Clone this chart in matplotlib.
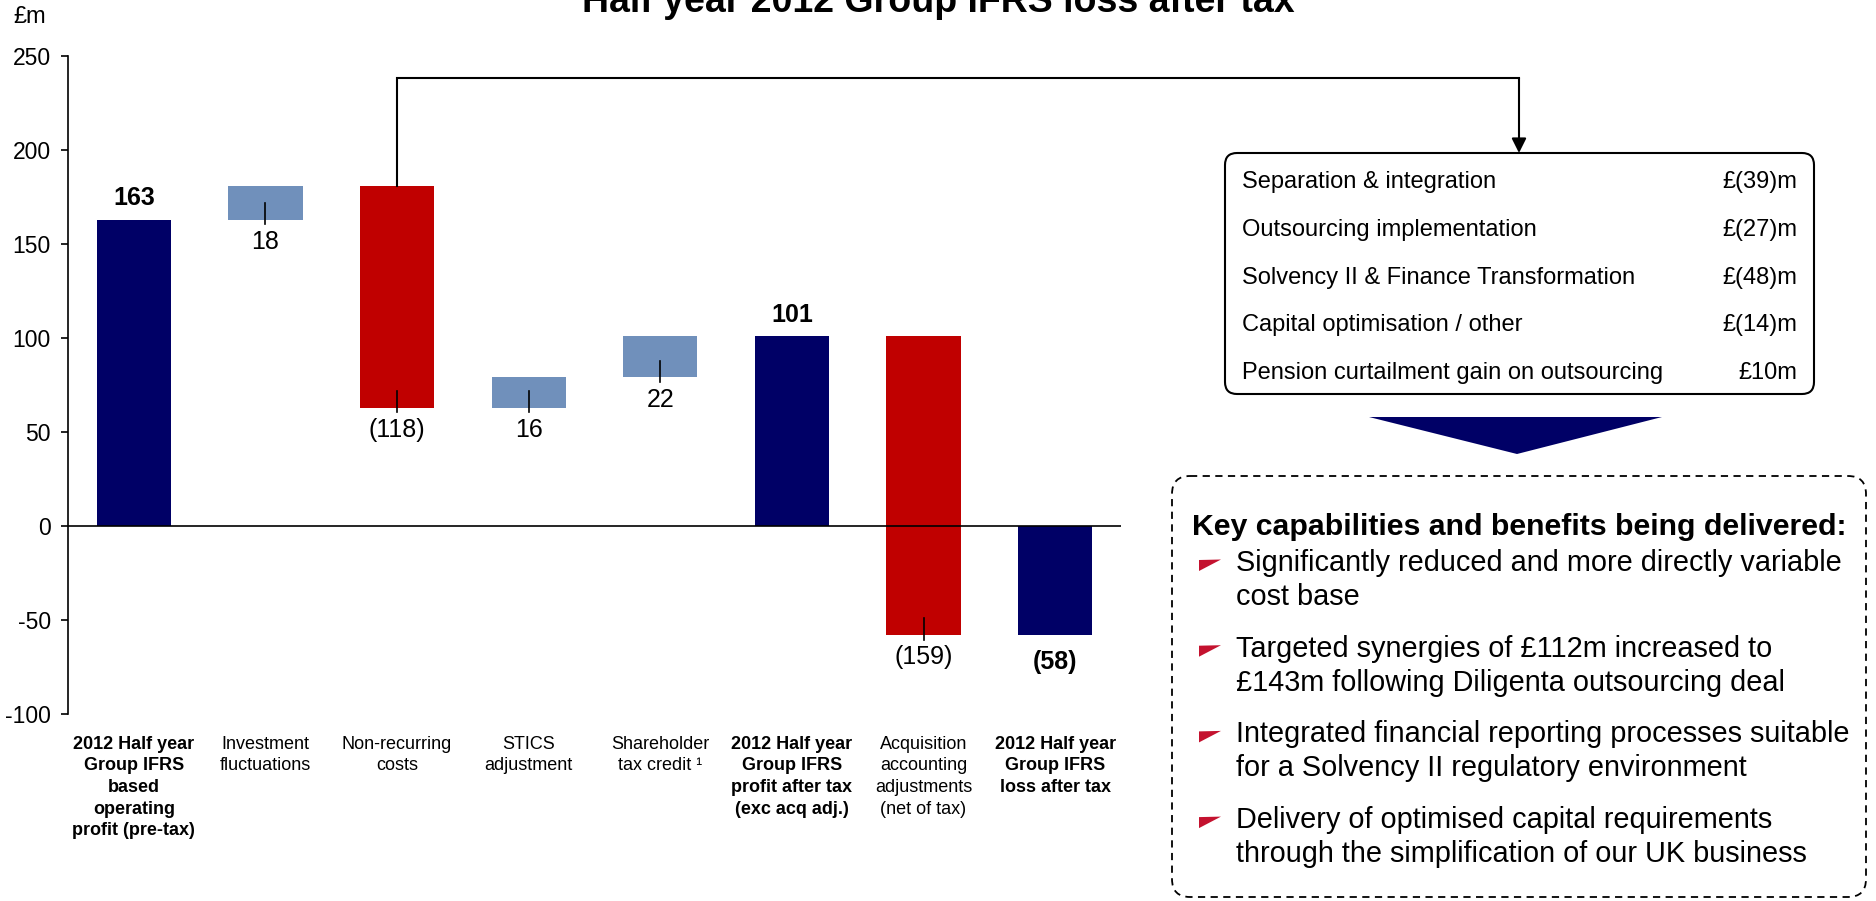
import numpy as np
import matplotlib
matplotlib.use('Agg')
import matplotlib.pyplot as plt
from matplotlib.patches import FancyBboxPatch, Polygon

plt.rcParams['font.family'] = ['Liberation Sans', 'DejaVu Sans']

# chart data
categories = ['2012 Half year\nGroup IFRS\nbased\noperating\nprofit (pre-tax)',
              'Investment\nfluctuations', 'Non-recurring\ncosts', 'STICS\nadjustment',
              'Shareholder\ntax credit \u00b9',
              '2012 Half year\nGroup IFRS\nprofit after tax\n(exc acq adj.)',
              'Acquisition\naccounting\nadjustments\n(net of tax)',
              '2012 Half year\nGroup IFRS\nloss after tax']
values = [163, 18, -118, 16, 22, 101, -159, -58]
is_total = [True, False, False, False, False, True, False, True]
y_ticks = [-100, -50, 0, 50, 100, 150, 200, 250]

# non-recurring cost breakdown
cost_items = ['Separation & integration', 'Outsourcing implementation',
              'Solvency II & Finance Transformation', 'Capital optimisation / other',
              'Pension curtailment gain on outsourcing']
cost_amounts = ['\u00a3(39)m', '\u00a3(27)m', '\u00a3(48)m', '\u00a3(14)m', '\u00a310m']

benefits_title = 'Key capabilities and benefits being delivered:'
benefits = ['Significantly reduced and more directly variable\ncost base',
            'Targeted synergies of \u00a3112m increased to\n\u00a3143m following Diligenta outsourcing deal',
            'Integrated financial reporting processes suitable\nfor a Solvency II regulatory environment',
            'Delivery of optimised capital requirements\nthrough the simplification of our UK business']

navy = '#000066'
red = '#C00000'
light = '#7090BB'
bullet_red = '#C4122F'

W, H = 1876, 901
fig = plt.figure(figsize=(W / 100, H / 100), dpi=100)
ax = fig.add_axes([68 / W, 1 - 714 / H, (1121 - 68) / W, (714 - 56) / H])

# waterfall bottoms
bottoms = []
running = 0
for v, t in zip(values, is_total):
    if t:
        bottoms.append(0)
        running = v
    else:
        bottoms.append(running)
        running += v
colors = [navy if t else (light if v > 0 else red) for v, t in zip(values, is_total)]

x = np.arange(len(values))
ax.bar(x, values, bottom=bottoms, width=0.565, color=colors, zorder=2)
ax.axhline(0, color='black', lw=1.2, zorder=3)

for i, (v, b, t) in enumerate(zip(values, bottoms, is_total)):
    lo = min(b, b + v)
    hi = max(b, b + v)
    txt = str(abs(v)) if v > 0 else '(%d)' % abs(v)
    if t:
        if v > 0:
            ax.annotate(txt, (i, hi), xytext=(0, 15.5), textcoords='offset points',
                        ha='center', va='center', fontsize=18, fontweight='bold')
        else:
            ax.annotate(txt, (i, lo), xytext=(0, -19.5), textcoords='offset points',
                        ha='center', va='center', fontsize=18, fontweight='bold')
    else:
        ax.plot([i, i], [lo + 9, lo - 2.5], color='black', lw=1.2, zorder=4)
        ax.annotate(txt, (i, lo), xytext=(0, -16), textcoords='offset points',
                    ha='center', va='center', fontsize=18)

ax.set_xlim(-0.5, len(values) - 0.5)
ax.set_ylim(-100, 250)
ax.set_yticks(y_ticks)
ax.set_yticklabels([str(t) for t in y_ticks], fontsize=16.5)
ax.set_xticks(x)
ax.set_xticklabels(categories, fontsize=13, linespacing=1.36)
for lbl, t in zip(ax.get_xticklabels(), is_total):
    if t:
        lbl.set_fontweight('bold')
ax.tick_params(axis='x', length=0, pad=15.5)
ax.tick_params(axis='y', direction='out', length=5, width=1.2, pad=7.5)
for s in ['top', 'right', 'bottom']:
    ax.spines[s].set_visible(False)
ax.spines['left'].set_linewidth(1.2)

fig.text(13 / W, 1 - 17 / H, '\u00a3m', fontsize=17, va='center', ha='left')
fig.text(0.5, 1 - 12 / H, 'Half year 2012 Group IFRS loss after tax', fontsize=27,
         fontweight='bold', ha='center', va='baseline')

# overlay in pixel coordinates for the right-hand panel
ov = fig.add_axes([0, 0, 1, 1])
ov.set_xlim(0, W)
ov.set_ylim(H, 0)
ov.axis('off')

# connector from the non-recurring costs bar to the breakdown box
px, py = ax.transData.transform((2, bottoms[2]))
bx, by = ov.transData.inverted().transform((px, py))
ov.plot([bx, bx, 1519], [by, 78, 78], color='black', lw=1.5, solid_joinstyle='miter')
ov.annotate('', xy=(1519, 153), xytext=(1519, 78),
            arrowprops=dict(arrowstyle='-|>', color='black', lw=1.5,
                            shrinkA=0, shrinkB=0, mutation_scale=22))

box = FancyBboxPatch((1225, 153), 589, 241, boxstyle='round,pad=0,rounding_size=12',
                     fill=False, ec='black', lw=1.5)
ov.add_patch(box)
for k, (item, amt) in enumerate(zip(cost_items, cost_amounts)):
    yy = 182 + k * 47.8
    ov.text(1242, yy, item, fontsize=17, va='center', ha='left')
    ov.text(1797, yy, amt, fontsize=17, va='center', ha='right')

ov.add_patch(Polygon([(1369, 417), (1662, 417), (1517, 454)], closed=True,
                     color=navy, lw=0))

dash = FancyBboxPatch((1172, 476), 694, 421, boxstyle='round,pad=0,rounding_size=18',
                      fill=False, ec='black', lw=1.3, ls=(0, (4, 3)))
ov.add_patch(dash)
ov.text(1192, 535, benefits_title, fontsize=21.8, fontweight='bold', va='baseline', ha='left')
for k, b in enumerate(benefits):
    base = 571 + k * 85.7
    for j, line in enumerate(b.split('\n')):
        ov.text(1236, base + j * 34, line, fontsize=20.8, va='baseline', ha='left')
    ov.add_patch(Polygon([(1199, base - 11), (1221, base - 11.5), (1199, base)],
                         closed=True, color=bullet_red, lw=0))

fig.savefig('out.png', dpi=100)
